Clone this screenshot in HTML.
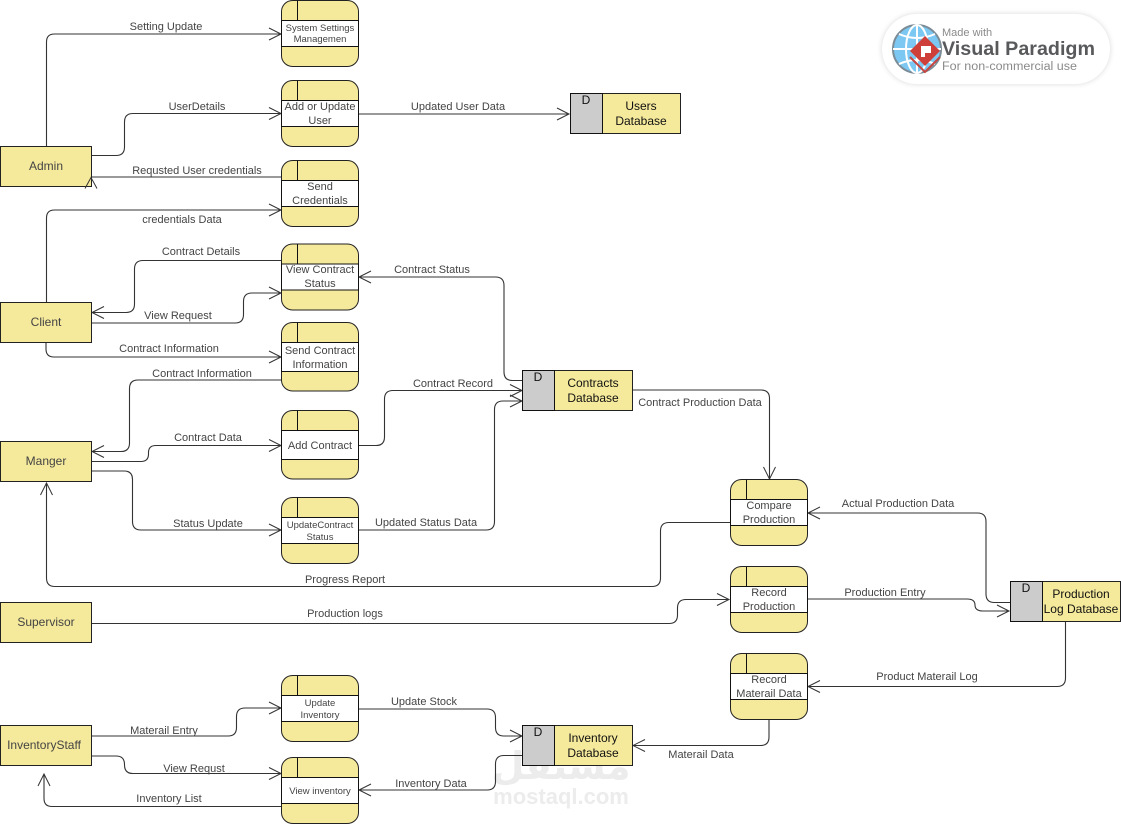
<!DOCTYPE html>
<html><head><meta charset="utf-8"><style>
html,body{margin:0;padding:0;background:#fff}
svg{display:block}
text{font-family:"Liberation Sans",Arial,sans-serif;font-size:11px;fill:#444;text-anchor:middle}
.c{fill:none;stroke:#333;stroke-width:1.1}
.a{fill:none;stroke:#333;stroke-width:1}
.f{fill:#f5e99b;stroke:#222;stroke-width:1}
.w{fill:#fff;stroke:#111;stroke-width:1}
.l{stroke:#111;stroke-width:1}
.e{font-size:12px;fill:#444}
.d{font-size:12px;fill:#111}
.s{font-size:9.5px}
</style></head><body>
<svg xmlns="http://www.w3.org/2000/svg" width="1121" height="824" viewBox="0 0 1121 824">
<defs>
<marker id="m" markerUnits="userSpaceOnUse" markerWidth="16" markerHeight="16" refX="13" refY="8" orient="auto"><path d="M1 2 L13 8 L1 14" fill="none" stroke="#333" stroke-width="1"/></marker>
<filter id="b" x="-10%" y="-20%" width="120%" height="140%"><feGaussianBlur stdDeviation="2.5"/></filter>
</defs>

<!-- watermark -->
<text x="561" y="779" style="font-family:'DejaVu Sans',sans-serif;font-size:38px;font-weight:bold;fill:#ececec">مستقل</text>
<text x="561" y="804" style="font-size:22px;font-weight:bold;fill:#ececec">mostaql.com</text>

<!-- connectors -->
<path class="c" marker-end="url(#m)" d="M46.5 146V42Q46.5 34 54.5 34H281"/>
<path class="c" marker-end="url(#m)" d="M91 155.500H116Q124.500 155.500 124.500 147V122Q124.500 113.500 133 113.500H281"/>
<path class="c" d="M281 177H91"/>
<path class="c" marker-end="url(#m)" d="M46.500 302V218Q46.500 210 54.500 210H281"/>
<path class="c" marker-end="url(#m)" d="M281 260.500H143Q134.500 260.500 134.500 269V304Q134.500 312.500 126 312.500H92"/>
<path class="c" marker-end="url(#m)" d="M91 323H235Q243.500 323 243.500 314.500V301.500Q243.500 293 252 293H281"/>
<path class="c" marker-end="url(#m)" d="M46 342V349Q46 357 54 357H281"/>
<path class="c" marker-end="url(#m)" d="M281 380H138Q129.500 380 129.500 388.500V443Q129.500 451.500 121 451.500H92"/>
<path class="c" marker-end="url(#m)" d="M91 461.500H141Q148.500 461.500 148.500 454V452.500Q148.500 445.500 156 445.500H281"/>
<path class="c" marker-end="url(#m)" d="M91 471H124Q132.500 471 132.500 479.500V521.500Q132.500 530 141 530H281"/>
<path class="c" marker-end="url(#m)" d="M730 522.500H669Q660.500 522.500 660.500 531V578Q660.500 586.500 652 586.500H55Q46.500 586.500 46.500 578V483"/>
<path class="c" marker-end="url(#m)" d="M91 623.500H669Q677.500 623.500 677.500 615V608Q677.500 599.500 686 599.500H729"/>
<path class="c" marker-end="url(#m)" d="M91 736H228Q236.500 736 236.500 727.500V716.500Q236.500 708 245 708H281"/>
<path class="c" marker-end="url(#m)" d="M91 756H116Q124.500 756 124.500 764.500V765Q124.500 773.500 133 773.500H281"/>
<path class="c" marker-end="url(#m)" d="M281 806.500H52Q44 806.500 44 798.500V774"/>
<path class="c" marker-end="url(#m)" d="M358 114H569"/>
<path class="c" marker-end="url(#m)" d="M522 380.500H512.500Q504 380.500 504 372V285.500Q504 277 495.500 277H359"/>
<path class="c" marker-end="url(#m)" d="M358 445.500H376Q384.500 445.500 384.500 437V399Q384.500 390.500 393 390.500H522"/>
<path class="c" marker-end="url(#m)" d="M358 530H486Q494.500 530 494.500 521.500V409.500Q494.500 401 503 401H522"/>
<path class="c" marker-end="url(#m)" d="M632 390H761Q769.500 390 769.500 398.500V479"/>
<path class="c" marker-end="url(#m)" d="M1010 602.500H994.500Q986 602.500 986 594V521.500Q986 513 977.500 513H808"/>
<path class="c" marker-end="url(#m)" d="M807 599H967Q975 599 975 605Q975 611 983 611H1009"/>
<path class="c" marker-end="url(#m)" d="M1065.500 621V678Q1065.500 686.500 1057 686.500H808"/>
<path class="c" marker-end="url(#m)" d="M769 719V737Q769 745.500 760.500 745.500H633"/>
<path class="c" marker-end="url(#m)" d="M358 709H487Q495.500 709 495.500 717.500V727.500Q495.500 736 504 736H522"/>
<path class="c" marker-end="url(#m)" d="M522 755.500H504Q495.500 755.500 495.500 764V781.500Q495.500 790 487 790H359"/>

<!-- connector labels -->
<text x="166" y="30">Setting Update</text>
<text x="197" y="110">UserDetails</text>
<text x="197" y="174">Requsted User credentials</text>
<text x="182" y="223">credentials Data</text>
<text x="201" y="255">Contract Details</text>
<text x="178" y="319">View Request</text>
<text x="169" y="352">Contract Information</text>
<text x="202" y="377">Contract Information</text>
<text x="208" y="441">Contract Data</text>
<text x="208" y="527">Status Update</text>
<text x="345" y="583">Progress Report</text>
<text x="345" y="617">Production logs</text>
<text x="164" y="734">Materail Entry</text>
<text x="194" y="772">View Requst</text>
<text x="169" y="802">Inventory List</text>
<text x="458" y="110">Updated User Data</text>
<text x="432" y="273">Contract Status</text>
<text x="453" y="387">Contract Record</text>
<text x="426" y="526">Updated Status Data</text>
<text x="700" y="406">Contract Production Data</text>
<text x="898" y="507">Actual Production Data</text>
<text x="885" y="596">Production Entry</text>
<text x="927" y="680">Product Materail Log</text>
<text x="701" y="758">Materail Data</text>
<text x="424" y="705">Update Stock</text>
<text x="431" y="787">Inventory Data</text>

<!-- entities -->
<rect class="f" x="0.500" y="146.500" width="91" height="40"/><text class="e" x="46" y="170">Admin</text>
<rect class="f" x="0.500" y="302.500" width="91" height="40"/><text class="e" x="46" y="326">Client</text>
<rect class="f" x="0.500" y="441.500" width="91" height="40"/><text class="e" x="46" y="465">Manger</text>
<rect class="f" x="0.500" y="602.500" width="91" height="40"/><text class="e" x="46" y="626">Supervisor</text>
<rect class="f" x="0.500" y="725.500" width="91" height="40"/><text class="e" x="44" y="749">InventoryStaff</text>
<path class="a" d="M85 188.500L91 177.500L97 188.500"/>

<!-- processes -->
<rect class="f" x="281.500" y="0.500" width="77" height="66" rx="11"/><rect class="w" x="281.500" y="20.500" width="77" height="26"/><path class="l" d="M297.500 0.500V20.500"/>
<text class="s" x="320" y="31">System Settings</text><text class="s" x="320" y="42">Managemen</text>

<rect class="f" x="281.500" y="80.500" width="77" height="66" rx="11"/><rect class="w" x="281.500" y="100.500" width="77" height="26"/><path class="l" d="M297.500 80.500V100.500"/>
<text x="320" y="110">Add or Update</text><text x="320" y="124">User</text>

<rect class="f" x="281.500" y="160.500" width="77" height="66" rx="11"/><rect class="w" x="281.500" y="180.500" width="77" height="26"/><path class="l" d="M297.500 160.500V180.500"/>
<text x="320" y="190">Send</text><text x="320" y="204">Credentials</text>

<rect class="f" x="281.500" y="244" width="77" height="66" rx="11"/><rect class="w" x="281.500" y="264" width="77" height="26"/><path class="l" d="M297.500 244V264"/>
<text x="320" y="273">View Contract</text><text x="320" y="287">Status</text>

<rect class="f" x="281.500" y="322.500" width="77" height="68.500" rx="11"/><rect class="w" x="281.500" y="342.500" width="77" height="29"/><path class="l" d="M297.500 322.500V342.500"/>
<text x="320" y="354">Send Contract</text><text x="320" y="368">Information</text>

<rect class="f" x="281.500" y="410.500" width="77" height="68.500" rx="11"/><rect class="w" x="281.500" y="430.500" width="77" height="29"/><path class="l" d="M297.500 410.500V430.500"/>
<text x="320" y="449">Add Contract</text>

<rect class="f" x="281.500" y="497.500" width="77" height="66" rx="11"/><rect class="w" x="281.500" y="517.500" width="77" height="26"/><path class="l" d="M297.500 497.500V517.500"/>
<text class="s" x="320" y="528">UpdateContract</text><text class="s" x="320" y="540">Status</text>

<rect class="f" x="730.500" y="479.500" width="77" height="66" rx="11"/><rect class="w" x="730.500" y="499.500" width="77" height="26"/><path class="l" d="M746.500 479.500V499.500"/>
<text x="769" y="509">Compare</text><text x="769" y="523">Production</text>

<rect class="f" x="730.500" y="566.500" width="77" height="66" rx="11"/><rect class="w" x="730.500" y="586.500" width="77" height="26"/><path class="l" d="M746.500 566.500V586.500"/>
<text x="769" y="596">Record</text><text x="769" y="610">Production</text>

<rect class="f" x="730.500" y="653.500" width="77" height="66" rx="11"/><rect class="w" x="730.500" y="673.500" width="77" height="26"/><path class="l" d="M746.500 653.500V673.500"/>
<text x="769" y="683">Record</text><text x="769" y="697">Materail Data</text>

<rect class="f" x="281.500" y="675.500" width="77" height="66" rx="11"/><rect class="w" x="281.500" y="695.500" width="77" height="26"/><path class="l" d="M297.500 675.500V695.500"/>
<text class="s" x="320" y="706">Update</text><text class="s" x="320" y="718">Inventory</text>

<rect class="f" x="281.500" y="757.500" width="77" height="66" rx="11"/><rect class="w" x="281.500" y="777.500" width="77" height="26"/><path class="l" d="M297.500 757.500V777.500"/>
<text class="s" x="320" y="794">View inventory</text>

<!-- data stores -->
<rect class="f" x="570.500" y="93.500" width="110" height="40"/><rect x="570.500" y="93.500" width="32" height="40" fill="#ccc" stroke="#111"/>
<text class="d" x="586" y="104">D</text><text class="d" x="641" y="110">Users</text><text class="d" x="641" y="125">Database</text>

<rect class="f" x="522.500" y="370.500" width="110" height="40"/><rect x="522.500" y="370.500" width="32" height="40" fill="#ccc" stroke="#111"/>
<text class="d" x="538" y="381">D</text><text class="d" x="593" y="387">Contracts</text><text class="d" x="593" y="402">Database</text>

<rect class="f" x="1010.500" y="581.500" width="110" height="40"/><rect x="1010.500" y="581.500" width="32" height="40" fill="#ccc" stroke="#111"/>
<text class="d" x="1026" y="592">D</text><text class="d" x="1081" y="598">Production</text><text class="d" x="1081" y="613">Log Database</text>

<rect class="f" x="522.500" y="725.500" width="110" height="40"/><rect x="522.500" y="725.500" width="32" height="40" fill="#ccc" stroke="#111"/>
<text class="d" x="538" y="736">D</text><text class="d" x="593" y="742">Inventory</text><text class="d" x="593" y="757">Database</text>

<!-- logo -->
<rect x="881" y="13" width="230" height="72" rx="36" fill="#e4e4e4" filter="url(#b)"/>
<rect x="882" y="14" width="228" height="70" rx="35" fill="#fff"/>
<circle cx="917" cy="49" r="24" fill="#7cc8f2" stroke="#7b8c96" stroke-width="2"/>
<path d="M893 49H941M917 25V73M899 34Q917 42 935 34M899 64Q917 56 935 64" fill="none" stroke="#fff" stroke-width="2"/>
<ellipse cx="917" cy="49" rx="11" ry="24" fill="none" stroke="#fff" stroke-width="2"/>
<path d="M910 57L925 72L940 57" fill="none" stroke="#c64540" stroke-width="2"/>
<path d="M925 36L940 51L925 66L910 51Z" fill="#cf3f3a"/>
<path d="M921 46H931V53H925V57H921Z" fill="#fff"/>
<text x="942" y="36" style="text-anchor:start;font-size:11px;fill:#8a8a8a">Made with</text>
<text x="942" y="55" style="text-anchor:start;font-size:19px;font-weight:bold;fill:#58595b" textLength="153" lengthAdjust="spacingAndGlyphs">Visual Paradigm</text>
<text x="942" y="70" style="text-anchor:start;font-size:11.500px;fill:#8a8a8a" textLength="135" lengthAdjust="spacingAndGlyphs">For non-commercial use</text>
</svg>
</body></html>
